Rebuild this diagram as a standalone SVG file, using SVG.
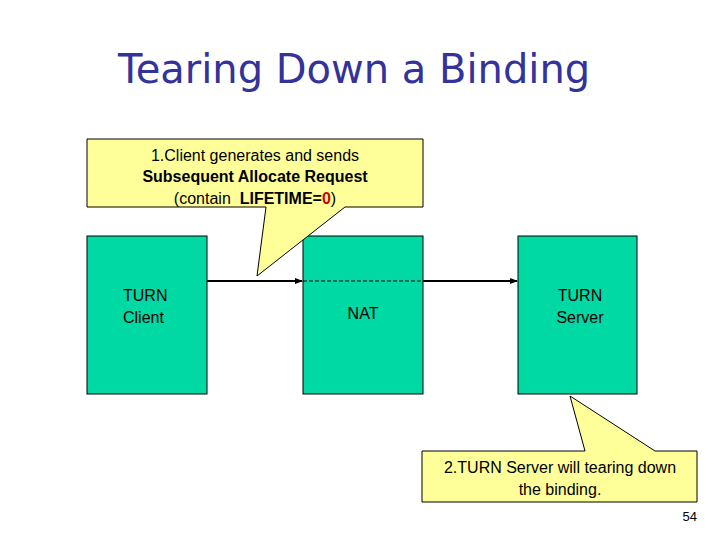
<svg xmlns="http://www.w3.org/2000/svg" width="720" height="540" viewBox="0 0 720 540">
<style>
.t{font-family:"Liberation Sans",Arial,sans-serif;fill:#000}
.box{fill:#00d9a3;stroke:#000;stroke-width:1}
.call{fill:#ffff99;stroke:#000;stroke-width:1}
</style>
<defs>
<marker id="ah" markerWidth="8" markerHeight="8" refX="7" refY="4" orient="auto" markerUnits="userSpaceOnUse"><path d="M0,1 L8,4 L0,7 Z" fill="#000"/></marker>
</defs>
<rect width="720" height="540" fill="#fff"/>
<text x="118" y="83" font-family="Tahoma,'DejaVu Sans',sans-serif" font-size="40" fill="#333399">Tearing Down a Binding</text>
<g id="client"><rect class="box" x="87" y="236" width="120" height="158"/>
<text class="t" x="123" y="301" font-size="16">TURN</text><text class="t" x="123" y="323" font-size="16">Client</text></g>
<g id="nat"><rect class="box" x="303" y="236" width="120" height="158"/>
<text class="t" x="363" y="319" font-size="16" text-anchor="middle">NAT</text></g>
<g id="server"><rect class="box" x="518" y="236" width="119" height="158"/>
<text class="t" x="580" y="301" font-size="16" text-anchor="middle">TURN</text><text class="t" x="580" y="323" font-size="16" text-anchor="middle">Server</text></g>
<g id="connectors" stroke="#000" fill="none">
<line x1="207" y1="281" x2="302" y2="281" stroke-width="2" marker-end="url(#ah)"/>
<line x1="303" y1="281" x2="423" y2="281" stroke-width="1" stroke-dasharray="4,2"/>
<line x1="423" y1="281" x2="517" y2="281" stroke-width="2" marker-end="url(#ah)"/>
</g>
<g id="callout1">
<path class="call" d="M87,139 H423 V207 H345 L257,276 L266,207 H87 Z"/>
<text class="t" x="255" y="161" font-size="16" text-anchor="middle">1.Client generates and sends</text>
<text class="t" x="255" y="182" font-size="16" text-anchor="middle" font-weight="bold">Subsequent  Allocate Request</text>
<text class="t" x="255" y="204" font-size="16" text-anchor="middle" xml:space="preserve">(contain  <tspan font-weight="bold">LIFETIME=<tspan fill="#cc0000">0</tspan></tspan>)</text>
</g>
<g id="callout2">
<path class="call" d="M422,451 H585 L570,396 L655,451 H697 V502 H422 Z"/>
<text class="t" x="560" y="473" font-size="16" text-anchor="middle">2.TURN Server will tearing down</text>
<text class="t" x="560" y="495" font-size="16" text-anchor="middle">the binding.</text>
</g>
<text x="697" y="521" font-family="'Liberation Sans',Arial,sans-serif" font-size="13" text-anchor="end" fill="#000">54</text>
</svg>
